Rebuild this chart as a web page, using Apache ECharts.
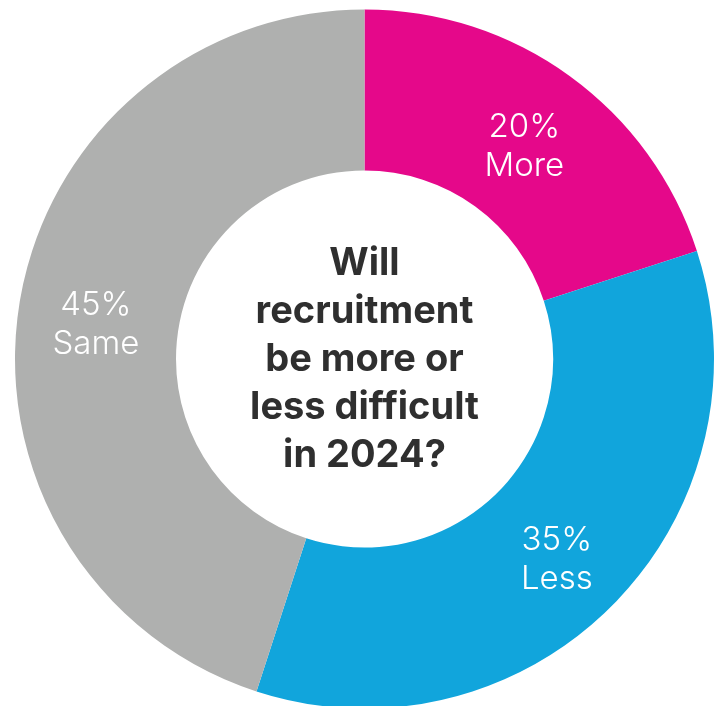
<!DOCTYPE html>
<html>
<head>
<meta charset="utf-8">
<script src="https://cdn.jsdelivr.net/npm/echarts@6/dist/echarts.min.js"></script>
<style>
  html, body { margin: 0; padding: 0; background: #ffffff; }
  #chart { width: 721px; height: 706px; }
</style>
</head>
<body>
<div id="chart"></div>
<script>
// Survey answers: share of respondents per answer
const categories = ['More', 'Less', 'Same'];
const values = [20, 35, 45];
const sliceColors = ['#E5088A', '#11A5DC', '#AFB0AF'];
const question = 'Will\nrecruitment\nbe more or\nless difficult\nin 2024?';

const chart = echarts.init(document.getElementById('chart'), null, { renderer: 'canvas' });

chart.setOption({
  animation: false,
  backgroundColor: '#ffffff',
  graphic: [{
    type: 'text',
    x: 364.5,
    y: 360,
    style: {
      text: question,
      align: 'center',
      verticalAlign: 'middle',
      fill: '#2f2f2f',
      fontFamily: 'Inter, "Noto Sans", sans-serif',
      fontWeight: 'bold',
      fontSize: 38,
      lineHeight: 48
    },
    z: 100
  }],
  series: [{
    type: 'pie',
    center: [364.5, 359],
    radius: [188.5, 349.5],
    startAngle: 90,
    clockwise: true,
    silent: true,
    avoidLabelOverlap: false,
    itemStyle: { borderWidth: 0 },
    label: {
      show: true,
      position: 'inside',
      formatter: p => p.value + '%\n' + p.name,
      color: '#ffffff',
      fontFamily: 'Inter, "Noto Sans", sans-serif',
      fontWeight: 300,
      fontSize: 33,
      lineHeight: 39,
      offset: [0, 8]
    },
    labelLine: { show: false },
    data: categories.map((name, i) => ({
      name: name,
      value: values[i],
      itemStyle: { color: sliceColors[i] }
    }))
  }]
});
</script>
</body>
</html>
